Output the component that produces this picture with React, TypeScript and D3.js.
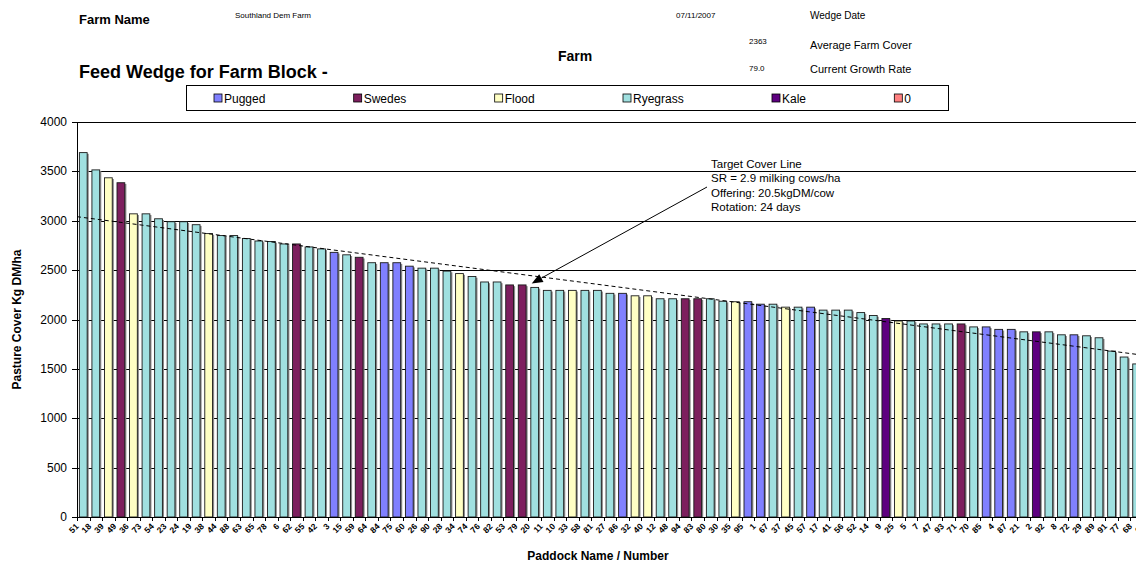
import React, { useEffect, useRef } from "react";
import * as d3 from "d3";

// paddock labels along the x axis (left to right, sorted by cover)
const paddocks = [
  "51", "18", "39", "49", "36", "73", "54", "23", "24", "19",
  "38", "44", "88", "63", "65", "78", "6", "62", "55", "42",
  "3", "15", "59", "64", "84", "75", "60", "26", "90", "28",
  "34", "74", "76", "82", "53", "79", "20", "11", "10", "33",
  "58", "81", "27", "86", "32", "40", "12", "48", "94", "83",
  "80", "30", "35", "95", "1", "67", "37", "45", "57", "17",
  "41", "56", "52", "14", "9", "25", "5", "7", "47", "93",
  "71", "70", "85", "4", "87", "21", "2", "92", "8", "72",
  "29", "89", "91", "77", "68", "66",
];

// pasture cover kg DM/ha per paddock
const covers = [
  3690, 3515, 3435, 3385, 3070, 3070, 3020, 2990, 2990, 2960,
  2870, 2850, 2850, 2820, 2795, 2790, 2765, 2765, 2735, 2715,
  2680, 2655, 2630, 2575, 2575, 2575, 2540, 2520, 2520, 2490,
  2465, 2435, 2380, 2380, 2350, 2350, 2325, 2295, 2295, 2295,
  2295, 2295, 2265, 2265, 2240, 2240, 2210, 2210, 2210, 2210,
  2210, 2185, 2180, 2180, 2155, 2155, 2125, 2125, 2125, 2095,
  2095, 2095, 2070, 2040, 2010, 1985, 1985, 1955, 1955, 1955,
  1955, 1925, 1925, 1900, 1900, 1875, 1875, 1875, 1845, 1845,
  1835, 1815, 1680, 1620, 1550, 1500,
];

// paddock state: R ryegrass, P pugged, S swedes, F flood, K kale
const states = [
  "R", "R", "F", "S", "F", "R", "R", "R", "R", "R",
  "F", "R", "R", "R", "R", "R", "R", "S", "R", "R",
  "P", "R", "S", "R", "P", "P", "P", "R", "R", "R",
  "F", "R", "R", "R", "S", "S", "R", "R", "R", "F",
  "R", "R", "R", "P", "F", "F", "R", "R", "S", "S",
  "R", "R", "F", "P", "P", "R", "F", "R", "P", "R",
  "R", "R", "R", "R", "K", "F", "R", "R", "R", "R",
  "S", "R", "P", "P", "P", "R", "K", "R", "R", "P",
  "R", "R", "R", "R", "R", "R",
];

const legendNames = ["Pugged", "Swedes", "Flood", "Ryegrass", "Kale", "0"];
const legendKeys = ["P", "S", "F", "R", "K", "Z"];
const colors: Record<string, string> = {
  P: "#8080ff",
  S: "#7d1f5e",
  F: "#ffffc4",
  R: "#a0e0e0",
  K: "#5e0080",
  Z: "#ff8080",
};

const yTicks = [0, 500, 1000, 1500, 2000, 2500, 3000, 3500, 4000];

// target cover line, value at first and last visible paddock
const targetFrom = { paddock: "51", cover: 3033 };
const targetTo = { paddock: "68", cover: 1647 };

const annotationLines = [
  "Target Cover Line",
  "SR = 2.9 milking cows/ha",
  "Offering: 20.5kgDM/cow",
  "Rotation: 24 days",
];
const annotationTarget = "20";

const farmName = "Southland Dem Farm";
const wedgeDate = "07/11/2007";
const avgCover = "2363";
const growthRate = "79.0";

const FONT = "'Liberation Sans', Arial, sans-serif";

const App: React.FC = () => {
  const ref = useRef<SVGSVGElement>(null);

  useEffect(() => {
    if (!ref.current) return;
    const svg = d3.select(ref.current);
    svg.selectAll("*").remove();

    const W = 1136;
    const H = 564;
    const left = 77;
    const step = 12.54;
    const top = 122;
    const bottom = 517;

    svg.attr("width", W).attr("height", H).style("font-family", FONT);
    svg.append("rect").attr("width", W).attr("height", H).attr("fill", "#fff");

    // header
    const hdr = svg.append("g").attr("fill", "#000");
    hdr.append("text").attr("x", 79).attr("y", 24).attr("font-size", 13).attr("font-weight", "bold").text("Farm Name");
    hdr.append("text").attr("x", 235).attr("y", 18).attr("font-size", 8).text(farmName);
    hdr.append("text").attr("x", 676).attr("y", 18).attr("font-size", 8).text(wedgeDate);
    hdr.append("text").attr("x", 810).attr("y", 19).attr("font-size", 10).text("Wedge Date");
    hdr.append("text").attr("x", 79).attr("y", 78).attr("font-size", 18).attr("font-weight", "bold").text("Feed Wedge for Farm Block -");
    hdr.append("text").attr("x", 558).attr("y", 61).attr("font-size", 14).attr("font-weight", "bold").text("Farm");
    hdr.append("text").attr("x", 749).attr("y", 44).attr("font-size", 8).text(avgCover);
    hdr.append("text").attr("x", 810).attr("y", 49).attr("font-size", 11).text("Average Farm Cover");
    hdr.append("text").attr("x", 749).attr("y", 71).attr("font-size", 8).text(growthRate);
    hdr.append("text").attr("x", 810).attr("y", 73).attr("font-size", 11).text("Current Growth Rate");

    // legend
    const lg = svg.append("g");
    const boxL = 186, boxR = 948, boxT = 85, boxB = 110;
    lg.append("rect")
      .attr("x", boxL + 0.5).attr("y", boxT + 0.5)
      .attr("width", boxR - boxL).attr("height", boxB - boxT)
      .attr("fill", "#fff").attr("stroke", "#000");
    const items = lg.selectAll("g.item").data(legendNames).enter().append("g").attr("class", "item");
    items.append("rect")
      .attr("width", 8).attr("height", 8)
      .attr("fill", (_, i) => colors[legendKeys[i]])
      .attr("stroke", "#000").attr("stroke-width", 0.8);
    items.append("text").attr("x", 10).attr("y", 8.5).attr("font-size", 12).text((d) => d);
    const widths: number[] = [];
    items.each(function () {
      const t = d3.select(this).select("text").node() as SVGTextElement;
      widths.push(11 + t.getComputedTextLength());
    });
    const padL = 28, padR = 36;
    const gap = (boxR - boxL - padL - padR - d3.sum(widths)) / (widths.length - 1);
    let cx = boxL + padL;
    items.attr("transform", (_, i) => {
      const tx = cx;
      cx += widths[i] + gap;
      return `translate(${tx},${boxT + 9})`;
    });

    // scales
    const x = d3.scaleBand<string>()
      .domain(paddocks)
      .range([left, left + paddocks.length * step])
      .paddingInner(0.38)
      .paddingOuter(0.19);
    const y = d3.scaleLinear().domain([0, 4000]).range([bottom, top]);

    // gridlines
    svg.append("g")
      .selectAll("line")
      .data(yTicks.filter((t) => t > 0))
      .enter()
      .append("line")
      .attr("x1", left).attr("x2", W)
      .attr("y1", (d) => Math.round(y(d)) + 0.5).attr("y2", (d) => Math.round(y(d)) + 0.5)
      .attr("stroke", "#000").attr("stroke-width", 1);

    // bars with shadow
    const data = paddocks.map((p, i) => ({ p, v: covers[i], s: states[i] }));
    const bw = x.bandwidth();
    svg.append("g")
      .selectAll("rect")
      .data(data)
      .enter()
      .append("rect")
      .attr("x", (d) => (x(d.p) as number) + 1.6)
      .attr("y", (d) => y(d.v) + 1.2)
      .attr("width", bw)
      .attr("height", (d) => bottom - y(d.v) - 1.2)
      .attr("fill", "#8a8a8a");
    svg.append("g")
      .selectAll("rect")
      .data(data)
      .enter()
      .append("rect")
      .attr("x", (d) => x(d.p) as number)
      .attr("y", (d) => y(d.v))
      .attr("width", bw)
      .attr("height", (d) => bottom - y(d.v))
      .attr("fill", (d) => colors[d.s])
      .attr("stroke", "#1a1a1a")
      .attr("stroke-width", 0.9);

    // target cover line (dashed, extended across the plot)
    const xa = (x(targetFrom.paddock) as number) + bw / 2;
    const xb = (x(targetTo.paddock) as number) + bw / 2;
    const slope = (y(targetTo.cover) - y(targetFrom.cover)) / (xb - xa);
    const xEnd = left + paddocks.length * step;
    svg.append("line")
      .attr("x1", left).attr("y1", y(targetFrom.cover) + (left - xa) * slope)
      .attr("x2", xEnd).attr("y2", y(targetFrom.cover) + (xEnd - xa) * slope)
      .attr("stroke", "#000").attr("stroke-width", 1)
      .attr("stroke-dasharray", "4,3");

    // axes
    svg.append("line")
      .attr("x1", left + 0.5).attr("x2", left + 0.5)
      .attr("y1", top).attr("y2", bottom + 0.5)
      .attr("stroke", "#000");
    svg.append("line")
      .attr("x1", left).attr("x2", W)
      .attr("y1", bottom + 0.5).attr("y2", bottom + 0.5)
      .attr("stroke", "#000");
    const yt = svg.append("g");
    yt.selectAll("line").data(yTicks).enter().append("line")
      .attr("x1", left - 5).attr("x2", left)
      .attr("y1", (d) => Math.round(y(d)) + 0.5).attr("y2", (d) => Math.round(y(d)) + 0.5)
      .attr("stroke", "#000");
    yt.selectAll("text").data(yTicks).enter().append("text")
      .attr("x", left - 10).attr("y", (d) => y(d) + 4)
      .attr("text-anchor", "end").attr("font-size", 12)
      .text((d) => d3.format("d")(d));

    // x ticks between categories
    svg.append("g")
      .selectAll("line")
      .data(paddocks)
      .enter()
      .append("line")
      .attr("x1", (d) => Math.round((x(d) as number) - x.step() * 0.19) + 0.5)
      .attr("x2", (d) => Math.round((x(d) as number) - x.step() * 0.19) + 0.5)
      .attr("y1", bottom).attr("y2", bottom + 4)
      .attr("stroke", "#000");
    svg.append("g")
      .selectAll("text")
      .data(paddocks)
      .enter()
      .append("text")
      .attr("transform", (d) => `translate(${(x(d) as number) + bw / 2 - 4},${bottom + 10}) rotate(-45)`)
      .attr("text-anchor", "end")
      .attr("font-size", 8.5)
      .attr("font-weight", "bold")
      .text((d) => d);

    // axis titles
    svg.append("text")
      .attr("transform", `translate(21,${(top + bottom) / 2}) rotate(-90)`)
      .attr("text-anchor", "middle").attr("font-size", 12).attr("font-weight", "bold")
      .text("Pasture Cover Kg DM/ha");
    svg.append("text")
      .attr("x", 598).attr("y", 560)
      .attr("text-anchor", "middle").attr("font-size", 12).attr("font-weight", "bold")
      .text("Paddock Name / Number");

    // annotation
    const ann = svg.append("g");
    ann.selectAll("text").data(annotationLines).enter().append("text")
      .attr("x", 711).attr("y", (_, i) => 168 + i * 14.3)
      .attr("font-size", 11.5)
      .text((d) => d);
    const tipIdx = paddocks.indexOf(annotationTarget);
    const tipX = (x(annotationTarget) as number) + bw / 2 - 3;
    const tipY = y(covers[tipIdx]) - 4;
    const sx = 707, sy = 187;
    const ang = Math.atan2(tipY - sy, tipX - sx);
    const hl = 11, hw = 4.5;
    const bx = tipX - hl * Math.cos(ang), by = tipY - hl * Math.sin(ang);
    ann.append("line")
      .attr("x1", sx).attr("y1", sy).attr("x2", bx).attr("y2", by)
      .attr("stroke", "#000").attr("stroke-width", 1);
    ann.append("path")
      .attr("d", `M${tipX},${tipY} L${bx + hw * Math.sin(ang)},${by - hw * Math.cos(ang)} L${bx - hw * Math.sin(ang)},${by + hw * Math.cos(ang)} Z`)
      .attr("fill", "#000");
  }, []);

  return (
    <svg
      ref={ref}
      style={{ position: "absolute", left: 0, top: 0, display: "block" }}
      width={1136}
      height={564}
    />
  );
};

export default App;
